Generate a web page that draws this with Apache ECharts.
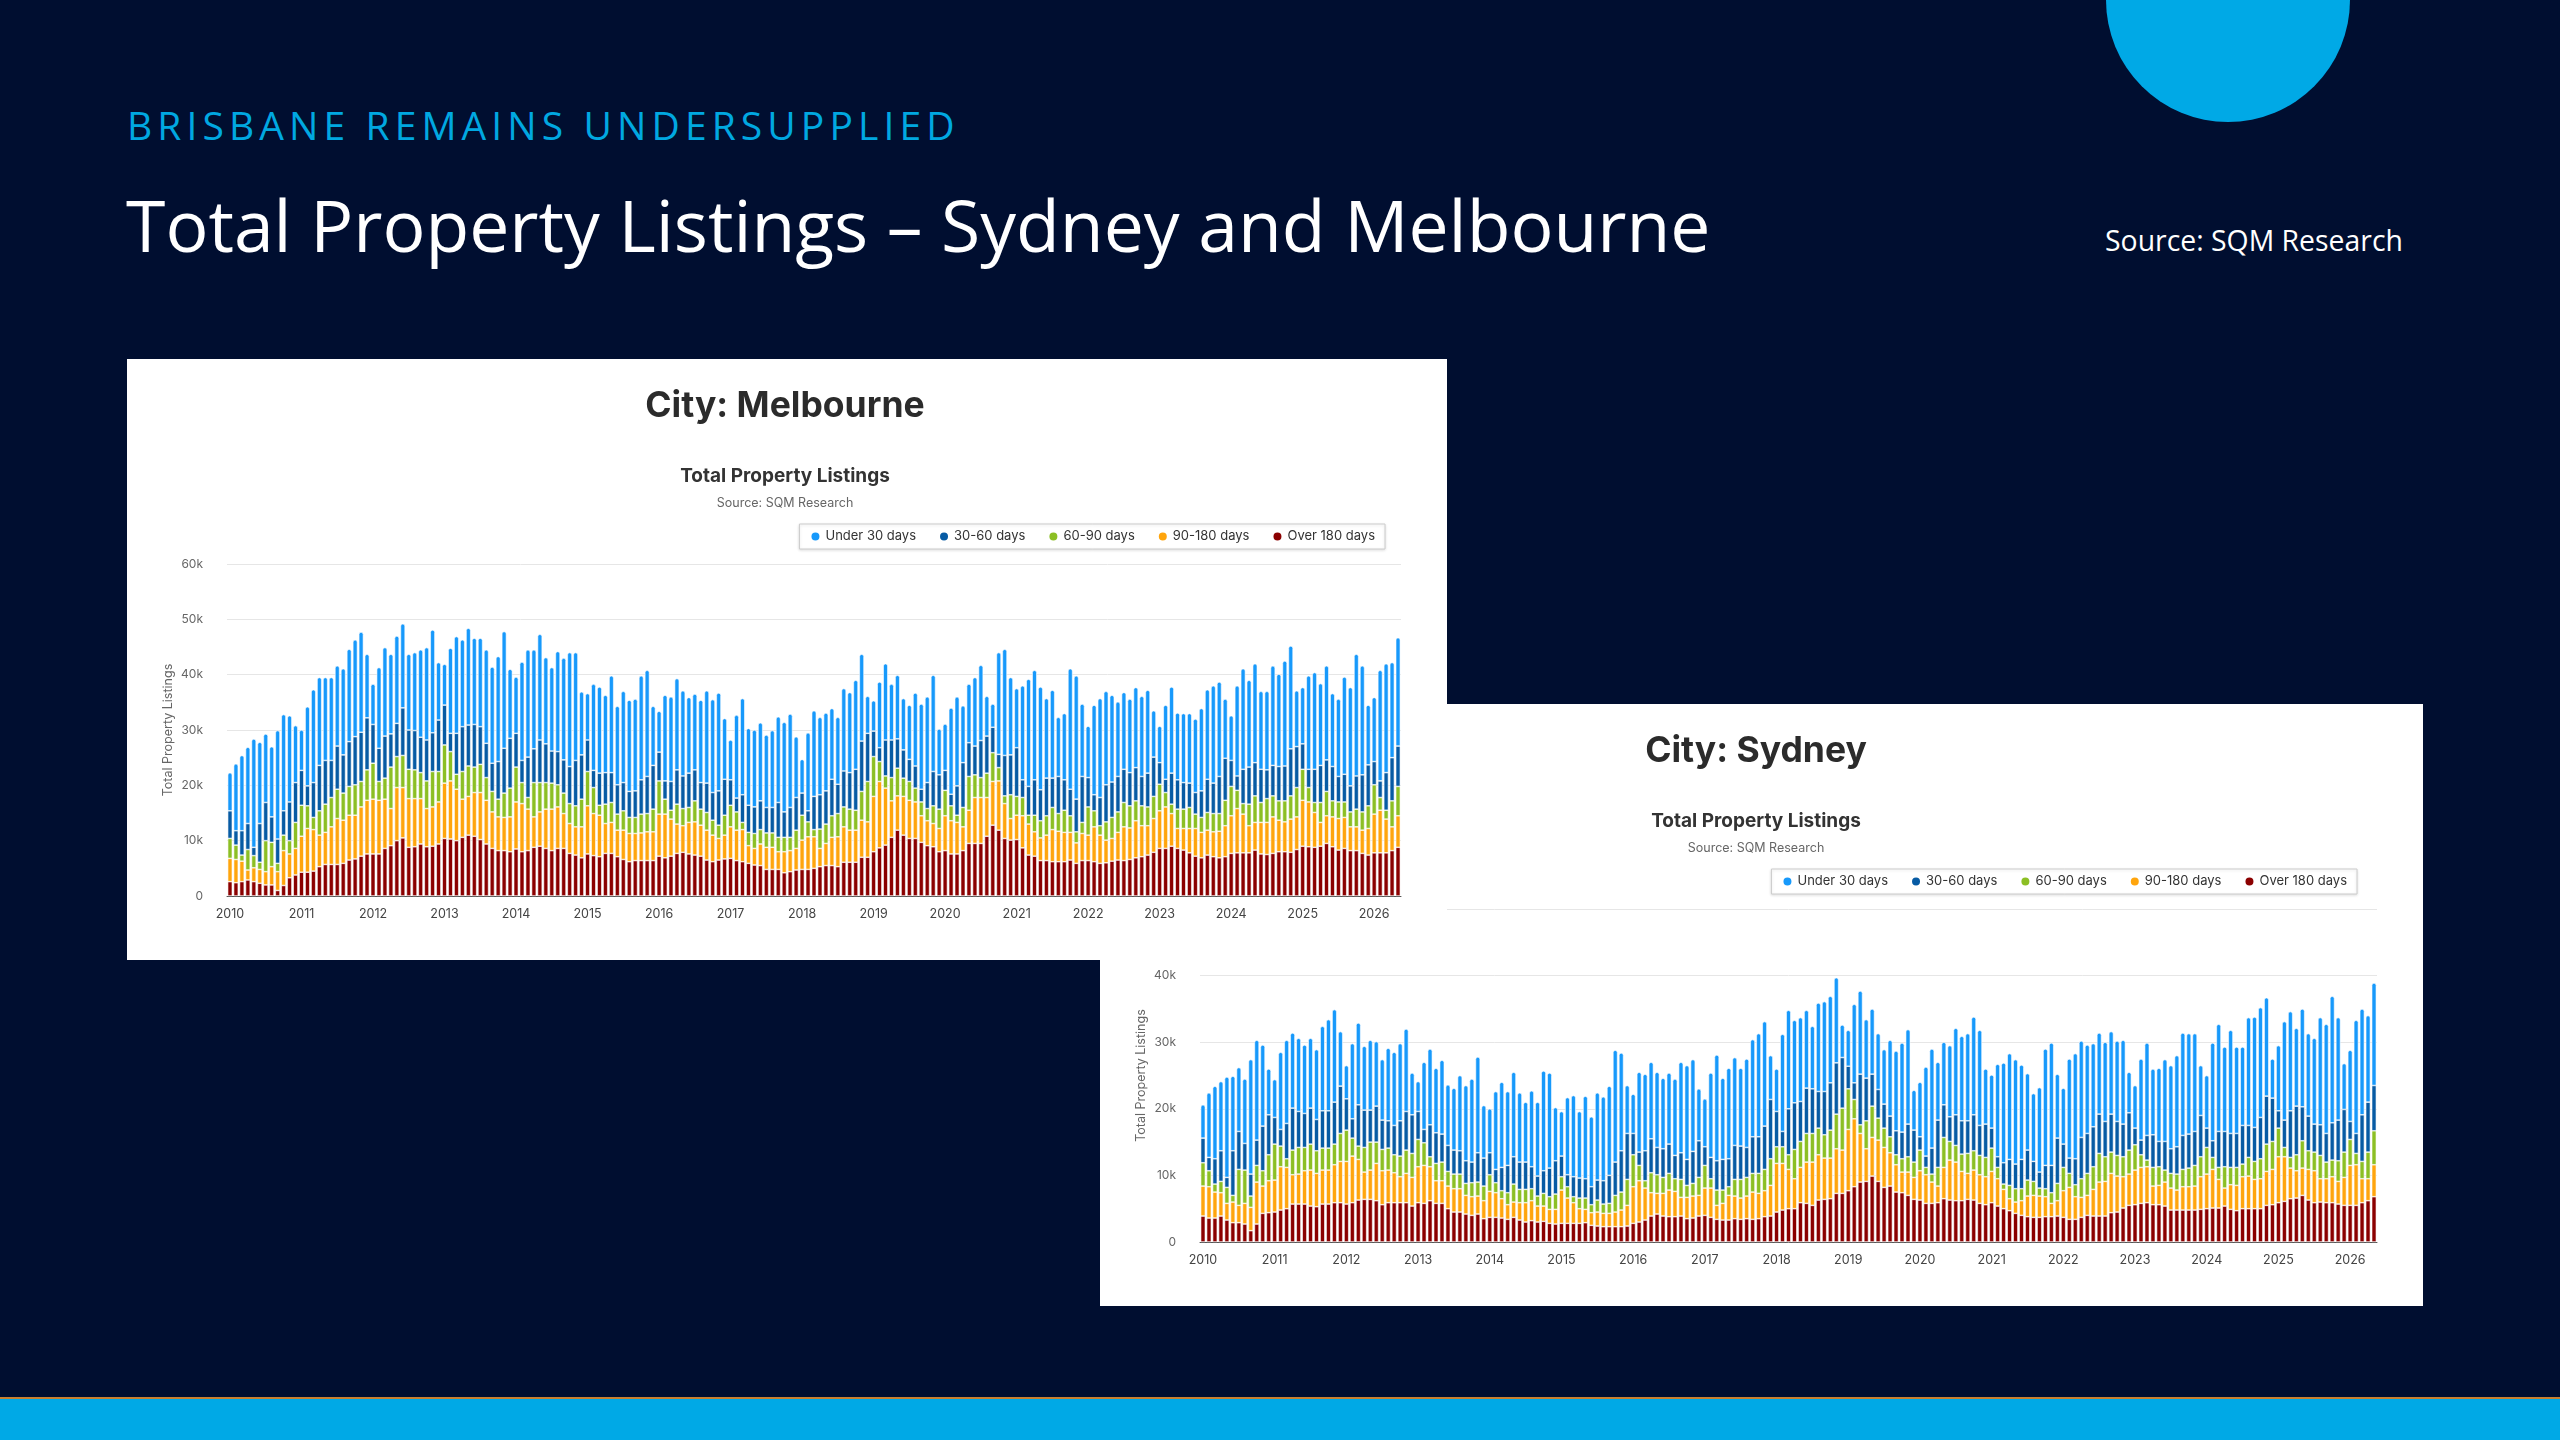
<!DOCTYPE html>
<html>
<head>
<meta charset="utf-8">
<title>Total Property Listings – Sydney and Melbourne</title>
<script src="https://cdn.jsdelivr.net/npm/echarts@6/dist/echarts.min.js"></script>
<style>
html, body { margin: 0; padding: 0; }
body {
    width: 2560px; height: 1440px; position: relative; overflow: hidden;
    background: #000e30; font-family: 'Open Sans', sans-serif;
}
.kicker { position: absolute; left: 127px; top: 105px; font-size: 39px; line-height: 1; letter-spacing: 5.1px; color: #00a8e1; }
.headline { position: absolute; left: 126px; top: 189px; font-size: 71.5px; line-height: 1; color: #fff; }
.source { position: absolute; left: 2105px; top: 226px; font-size: 28.4px; line-height: 1; color: #fff; }
.blob { position: absolute; left: 2106px; top: -122px; width: 244px; height: 244px; border-radius: 50%; background: #00a9e6; }
.footer { position: absolute; left: 0; top: 1397px; width: 2560px; height: 43px; box-sizing: border-box; background: #00a9e6; border-top: 2px solid #c8802f; }
.panel { position: absolute; background: #fff; }
#sydney { left: 1100px; top: 704px; width: 1323px; height: 602px; z-index: 1; }
#melbourne { left: 127px; top: 359px; width: 1320px; height: 601px; z-index: 2; }
</style>
</head>
<body>
<div class="blob"></div>
<div class="kicker">BRISBANE REMAINS UNDERSUPPLIED</div>
<div class="headline">Total Property Listings – Sydney and Melbourne</div>
<div class="source">Source: SQM Research</div>
<div id="sydney" class="panel"></div>
<div id="melbourne" class="panel"></div>
<div class="footer"></div>

<script>
// monthly listings, thousands, Jan 2010 .. May 2026
const startYear = 2010

const melOver180 = [
    2.6, 2.4, 2.6, 2.9, 2.6, 2.3, 2.0, 2.0, 1.0, 1.9,
    3.3, 3.8, 4.3, 4.3, 4.5, 5.3, 5.7, 5.7, 5.7, 5.9,
    6.5, 6.7, 7.2, 7.6, 7.6, 7.6, 8.6, 9.1, 10.0, 10.5,
    8.8, 8.9, 9.4, 8.9, 9.0, 9.4, 10.4, 10.3, 10.0, 10.6,
    11.0, 10.8, 10.2, 9.4, 8.6, 8.2, 8.2, 8.0, 8.5, 8.0,
    8.2, 8.8, 9.0, 8.6, 8.2, 8.6, 8.6, 7.7, 7.4, 6.9,
    7.6, 7.3, 7.1, 7.7, 7.7, 7.1, 6.6, 6.2, 6.4, 6.4,
    6.4, 6.4, 7.2, 6.9, 7.2, 7.7, 7.9, 7.6, 7.4, 7.2,
    6.5, 6.2, 6.5, 6.7, 6.8, 6.4, 6.2, 5.9, 5.6, 5.5,
    4.8, 4.8, 4.8, 4.2, 4.4, 4.7, 4.8, 4.8, 5.0, 5.3,
    5.5, 5.5, 5.3, 6.1, 6.1, 6.1, 7.0, 7.0, 8.0, 8.7,
    9.2, 10.6, 11.9, 11.0, 10.4, 10.4, 9.7, 9.1, 8.9, 8.0,
    8.2, 7.6, 7.6, 8.2, 9.5, 9.5, 9.5, 10.8, 12.8, 11.9,
    10.4, 10.1, 10.2, 8.7, 7.4, 7.2, 6.4, 6.4, 6.2, 6.2,
    6.2, 6.5, 5.9, 6.4, 6.4, 6.2, 5.9, 6.0, 6.3, 6.5,
    6.4, 6.6, 6.9, 7.1, 7.4, 7.9, 8.6, 8.6, 9.0, 8.6,
    8.3, 7.8, 7.2, 6.9, 7.4, 7.1, 6.9, 7.1, 7.7, 7.8,
    7.8, 7.8, 8.3, 7.6, 7.5, 7.7, 8.0, 8.0, 7.9, 8.4,
    9.0, 8.9, 8.8, 9.0, 9.5, 8.9, 8.3, 8.6, 8.2, 8.2,
    7.7, 7.4, 7.8, 7.8, 7.8, 8.2, 8.8
]
const mel90to180 = [
    4.2, 4.2, 3.7, 1.8, 2.5, 2.5, 2.4, 3.3, 3.4, 6.3,
    4.3, 4.8, 6.5, 7.9, 7.5, 5.7, 5.8, 6.8, 8.3, 7.8,
    8.1, 7.9, 8.9, 9.7, 9.9, 9.7, 8.9, 6.7, 9.6, 9.1,
    8.8, 8.7, 8.2, 6.9, 7.1, 7.6, 10.0, 10.5, 9.3, 6.9,
    7.0, 7.9, 8.5, 7.9, 6.6, 6.1, 6.0, 6.3, 8.5, 8.7,
    7.5, 5.5, 6.2, 7.1, 7.5, 7.5, 6.3, 5.4, 5.1, 5.6,
    8.7, 7.6, 7.5, 5.4, 5.6, 4.8, 5.3, 5.1, 4.9, 5.0,
    5.2, 5.2, 7.6, 7.9, 6.7, 5.3, 4.8, 5.7, 6.0, 5.6,
    5.4, 4.8, 3.9, 4.3, 5.7, 5.5, 5.8, 3.2, 3.0, 3.9,
    4.0, 4.0, 3.2, 3.8, 3.8, 3.9, 5.3, 5.9, 5.7, 3.3,
    4.0, 5.1, 5.4, 6.4, 5.8, 5.8, 6.7, 6.4, 10.0, 12.0,
    10.3, 6.6, 6.2, 7.0, 6.9, 6.6, 4.8, 4.5, 4.2, 4.2,
    6.3, 6.0, 5.7, 4.3, 6.0, 8.3, 8.3, 7.0, 7.9, 8.9,
    6.3, 3.9, 4.4, 5.8, 5.6, 4.4, 4.1, 4.6, 5.8, 5.5,
    5.3, 5.0, 3.7, 4.9, 4.6, 6.3, 5.1, 4.1, 4.1, 5.0,
    6.1, 5.7, 6.7, 5.6, 5.3, 6.1, 6.8, 7.5, 5.9, 3.6,
    3.9, 4.4, 5.0, 4.6, 4.5, 4.5, 4.8, 5.6, 6.8, 8.0,
    7.0, 4.9, 5.0, 5.7, 5.8, 6.6, 5.7, 5.4, 6.0, 5.9,
    8.3, 8.1, 6.3, 4.3, 5.0, 5.4, 5.7, 5.6, 4.3, 4.3,
    4.2, 4.8, 7.0, 7.7, 6.1, 4.3, 5.7
]
const mel60to90 = [
    3.6, 2.6, 1.1, 3.7, 2.2, 1.3, 5.6, 4.4, 1.5, 2.8,
    2.4, 4.7, 5.6, 4.1, 2.2, 4.4, 5.1, 5.3, 5.3, 4.9,
    5.2, 5.5, 4.6, 5.5, 6.5, 3.4, 3.8, 7.5, 5.6, 5.8,
    5.3, 5.2, 4.7, 5.0, 6.4, 5.5, 6.9, 5.3, 2.7, 5.0,
    5.5, 4.6, 5.1, 4.1, 3.7, 3.2, 4.4, 5.2, 6.3, 3.8,
    2.1, 6.2, 5.3, 4.8, 4.7, 4.0, 3.7, 3.6, 3.8, 5.0,
    6.2, 4.7, 1.8, 3.5, 3.6, 2.9, 3.5, 2.9, 2.9, 3.4,
    3.3, 4.1, 6.0, 2.7, 1.6, 3.6, 3.1, 2.7, 3.8, 2.9,
    3.2, 2.7, 2.4, 3.6, 3.9, 3.3, 1.3, 2.4, 2.7, 2.6,
    2.6, 2.6, 2.6, 2.6, 2.4, 3.3, 4.5, 2.7, 1.3, 3.5,
    3.5, 3.9, 4.2, 3.6, 3.8, 3.6, 5.2, 7.3, 7.2, 3.6,
    2.2, 4.2, 5.0, 3.3, 3.4, 2.5, 2.5, 2.2, 3.2, 3.5,
    4.6, 2.7, 1.3, 3.5, 6.1, 4.1, 3.6, 4.4, 5.2, 2.4,
    1.4, 4.3, 3.4, 3.3, 1.6, 3.0, 3.1, 3.5, 4.0, 3.2,
    4.0, 3.0, 2.0, 2.0, 5.1, 2.9, 1.7, 3.3, 3.8, 3.7,
    4.4, 4.0, 3.6, 3.6, 3.4, 4.0, 4.8, 2.6, 1.7, 3.5,
    3.5, 3.8, 2.6, 2.7, 3.2, 3.3, 3.2, 4.6, 5.3, 3.3,
    1.9, 3.9, 4.8, 3.6, 4.3, 3.8, 3.5, 3.8, 4.2, 5.3,
    5.6, 2.6, 1.8, 3.6, 4.4, 2.9, 3.0, 2.8, 2.7, 3.2,
    3.3, 4.1, 5.3, 2.3, 1.6, 4.7, 5.3
]
const mel30to60 = [
    5.0, 2.6, 4.4, 4.7, 1.5, 7.0, 6.9, 4.6, 4.4, 4.4,
    7.0, 7.2, 6.3, 3.6, 6.3, 8.2, 7.9, 6.7, 7.8, 6.9,
    8.1, 8.7, 8.9, 9.4, 7.0, 6.0, 7.6, 6.0, 6.0, 8.6,
    7.1, 7.1, 6.4, 7.4, 7.0, 9.3, 7.2, 3.3, 7.4, 8.1,
    7.4, 7.7, 6.8, 6.2, 5.1, 6.8, 8.1, 9.0, 6.1, 4.0,
    7.3, 6.1, 7.7, 7.0, 5.8, 6.0, 6.0, 6.7, 8.2, 8.0,
    5.7, 3.1, 5.8, 5.7, 5.4, 5.3, 5.1, 4.7, 4.8, 6.2,
    6.7, 7.9, 5.2, 3.3, 5.2, 6.2, 5.9, 6.2, 5.6, 4.8,
    5.3, 5.0, 6.2, 6.5, 4.6, 2.5, 5.0, 4.9, 4.8, 5.2,
    4.6, 4.6, 6.3, 4.6, 5.4, 5.9, 4.0, 2.0, 6.0, 6.2,
    6.0, 6.6, 5.3, 6.5, 6.6, 7.4, 9.1, 8.7, 4.6, 2.5,
    6.5, 6.8, 5.3, 5.1, 4.0, 4.0, 2.3, 4.7, 6.2, 6.2,
    3.6, 2.1, 5.3, 8.1, 6.1, 5.2, 6.7, 6.7, 4.6, 2.4,
    7.3, 7.2, 8.8, 3.2, 5.2, 6.4, 5.6, 6.8, 5.3, 6.7,
    5.5, 4.8, 5.9, 8.3, 5.3, 2.9, 5.1, 6.7, 6.4, 6.4,
    6.0, 6.0, 6.0, 5.3, 6.1, 7.1, 3.9, 2.4, 5.6, 5.3,
    4.8, 4.4, 3.9, 4.8, 6.0, 5.5, 6.7, 7.6, 4.7, 2.6,
    6.2, 6.7, 6.0, 6.0, 5.2, 5.5, 6.2, 6.3, 8.5, 7.4,
    4.6, 3.3, 6.0, 6.7, 5.7, 6.2, 4.6, 5.0, 4.7, 6.0,
    6.7, 7.4, 4.2, 3.0, 6.8, 7.8, 7.3
]
const melUnder30 = [
    6.9, 12.1, 13.6, 13.8, 19.6, 14.7, 12.4, 12.7, 19.6, 17.4,
    15.6, 10.3, 7.3, 14.3, 16.8, 15.9, 15.0, 15.0, 14.5, 15.6,
    16.7, 17.5, 18.1, 11.5, 7.3, 14.6, 16.0, 14.4, 15.8, 15.2,
    13.7, 14.1, 15.8, 16.7, 18.6, 10.4, 7.4, 15.4, 17.5, 15.7,
    17.5, 15.6, 16.0, 16.9, 17.4, 19.0, 21.1, 12.5, 10.2, 17.8,
    19.4, 17.9, 19.1, 15.6, 15.1, 18.1, 18.4, 20.6, 19.5, 11.4,
    8.4, 15.6, 15.6, 14.0, 17.5, 14.2, 16.5, 16.5, 16.6, 18.8,
    19.2, 10.7, 7.4, 15.5, 15.3, 16.5, 15.4, 13.7, 13.7, 14.9,
    16.7, 16.8, 17.7, 11.0, 7.2, 15.0, 17.4, 13.9, 13.9, 14.1,
    13.1, 13.9, 15.5, 16.2, 16.9, 11.0, 6.1, 14.1, 15.5, 14.0,
    14.1, 12.8, 12.1, 14.9, 14.5, 16.1, 15.7, 6.7, 5.5, 11.9,
    13.8, 10.1, 11.5, 9.3, 9.8, 13.2, 15.4, 15.5, 17.4, 8.3,
    8.4, 15.6, 16.1, 10.3, 10.6, 12.4, 13.6, 7.2, 4.2, 18.4,
    19.2, 14.0, 10.7, 17.0, 19.4, 19.8, 18.6, 14.4, 15.9, 10.7,
    12.0, 21.8, 22.3, 13.1, 9.3, 16.2, 17.9, 16.9, 15.7, 13.5,
    13.9, 13.3, 14.5, 14.5, 15.0, 8.4, 6.6, 13.4, 15.6, 12.1,
    12.5, 12.6, 13.3, 14.9, 16.2, 17.6, 17.1, 10.7, 8.1, 16.3,
    18.2, 15.7, 17.9, 14.1, 14.2, 18.0, 16.7, 19.0, 18.6, 10.1,
    10.2, 16.9, 17.5, 14.8, 17.0, 13.2, 14.0, 17.6, 17.8, 22.0,
    19.7, 10.8, 11.6, 20.0, 19.7, 17.2, 19.6
]

const sydOver180 = [
    3.9, 3.6, 3.6, 3.9, 3.3, 2.9, 2.9, 2.7, 1.7, 2.7,
    4.3, 4.4, 4.5, 4.8, 5.0, 5.7, 5.7, 5.7, 5.4, 5.3,
    5.7, 5.7, 5.9, 5.9, 5.7, 5.9, 6.3, 6.4, 6.4, 6.2,
    5.6, 5.9, 5.9, 5.9, 5.9, 5.4, 5.9, 5.8, 6.2, 5.8,
    5.8, 5.0, 4.5, 4.5, 4.2, 4.0, 4.2, 3.5, 3.7, 3.7,
    3.6, 3.4, 3.7, 3.3, 3.0, 3.2, 3.0, 3.1, 2.8, 2.7,
    2.8, 2.8, 2.8, 2.8, 2.9, 2.5, 2.4, 2.3, 2.3, 2.3,
    2.3, 2.4, 2.8, 3.0, 3.3, 3.9, 4.2, 3.9, 3.8, 3.8,
    3.9, 3.5, 3.6, 3.9, 4.0, 3.7, 3.4, 3.3, 3.3, 3.5,
    3.4, 3.5, 3.4, 3.5, 3.8, 3.9, 4.5, 4.8, 5.0, 5.0,
    5.9, 5.8, 5.5, 6.3, 6.4, 6.5, 7.3, 7.3, 7.7, 8.3,
    9.0, 9.1, 9.9, 9.1, 8.2, 8.4, 7.5, 7.4, 7.0, 6.4,
    6.3, 5.8, 5.8, 5.9, 6.5, 6.3, 6.2, 6.2, 6.4, 6.3,
    5.8, 5.6, 5.9, 5.4, 5.0, 4.7, 4.3, 4.0, 3.8, 3.7,
    3.7, 3.8, 3.8, 3.9, 3.7, 3.4, 3.4, 3.7, 4.0, 3.9,
    3.9, 3.9, 4.4, 4.5, 5.1, 5.5, 5.6, 5.8, 5.9, 5.6,
    5.6, 5.4, 4.8, 4.8, 4.8, 4.8, 4.8, 4.9, 5.0, 5.1,
    5.1, 5.4, 4.9, 4.7, 5.0, 5.0, 5.0, 5.0, 5.5, 5.6,
    5.9, 6.1, 6.5, 6.6, 7.0, 6.3, 5.9, 6.0, 5.9, 5.9,
    5.7, 5.5, 5.5, 5.5, 5.9, 6.2, 6.8
]
const syd90to180 = [
    4.5, 4.7, 3.9, 3.5, 2.5, 3.1, 2.6, 3.1, 3.5, 6.3,
    4.1, 4.8, 4.8, 6.5, 6.2, 4.4, 4.5, 5.0, 5.4, 5.0,
    5.1, 5.1, 5.7, 6.2, 6.4, 7.0, 6.1, 4.1, 4.4, 5.6,
    5.1, 4.9, 4.5, 3.9, 4.4, 4.3, 5.4, 5.7, 5.1, 3.4,
    3.4, 3.4, 3.5, 3.5, 2.8, 2.8, 2.7, 2.7, 3.9, 3.7,
    2.9, 2.2, 2.3, 2.6, 2.9, 3.0, 2.4, 2.3, 2.1, 2.2,
    5.0, 3.8, 3.1, 2.2, 2.0, 1.9, 2.1, 2.0, 2.0, 2.2,
    2.5, 3.1, 5.5, 6.2, 4.8, 3.5, 3.1, 3.4, 4.0, 3.8,
    2.8, 3.2, 3.3, 3.1, 4.1, 4.4, 2.1, 2.5, 3.7, 3.4,
    3.2, 3.4, 4.1, 3.8, 3.9, 4.6, 7.3, 7.0, 5.9, 4.5,
    5.3, 6.2, 6.5, 6.8, 6.2, 6.1, 6.7, 6.5, 9.2, 10.2,
    7.3, 4.9, 5.8, 6.2, 6.0, 5.0, 4.1, 3.1, 3.5, 3.3,
    4.4, 4.3, 3.2, 2.5, 4.7, 6.0, 5.8, 4.4, 3.9, 4.5,
    4.3, 4.2, 4.7, 4.1, 2.9, 1.8, 1.7, 2.2, 3.1, 3.3,
    3.2, 3.0, 2.0, 2.3, 4.0, 4.8, 3.4, 3.0, 3.0, 4.0,
    5.1, 5.2, 5.9, 5.4, 4.7, 4.7, 5.2, 5.4, 5.4, 2.8,
    2.9, 3.6, 3.3, 3.0, 3.5, 3.5, 3.6, 4.9, 5.2, 5.8,
    4.3, 2.7, 3.7, 3.8, 4.8, 4.9, 4.4, 4.5, 5.1, 5.3,
    6.9, 6.7, 4.6, 4.1, 4.1, 4.6, 4.8, 3.5, 3.6, 3.9,
    3.4, 4.2, 6.0, 6.1, 3.6, 3.3, 4.8
]
const syd60to90 = [
    3.5, 2.4, 1.2, 1.7, 2.4, 1.0, 5.4, 5.0, 1.7, 2.5,
    2.3, 3.9, 5.4, 3.1, 1.3, 3.7, 4.0, 3.5, 3.9, 3.4,
    3.3, 3.3, 3.1, 4.2, 4.7, 2.7, 2.0, 3.7, 4.2, 3.2,
    3.2, 3.3, 2.7, 3.1, 3.5, 3.6, 4.1, 3.4, 1.5, 2.6,
    2.8, 2.2, 2.2, 2.2, 1.8, 2.1, 2.1, 2.2, 2.5, 1.5,
    1.2, 1.8, 2.7, 2.0, 2.0, 1.8, 1.5, 1.9, 1.9, 2.3,
    2.0, 1.7, 0.9, 1.6, 1.7, 1.2, 1.8, 1.4, 1.5, 2.5,
    2.7, 3.9, 4.8, 2.3, 1.1, 3.0, 2.8, 2.4, 2.5, 1.9,
    2.7, 1.8, 1.9, 2.7, 3.4, 1.4, 2.3, 2.0, 1.3, 2.5,
    2.8, 2.8, 2.8, 3.0, 3.2, 4.0, 2.5, 2.5, 2.2, 4.4,
    3.9, 4.3, 4.3, 4.0, 3.5, 4.2, 5.2, 6.3, 6.1, 2.9,
    1.3, 4.2, 4.7, 3.3, 2.9, 2.4, 1.5, 2.0, 2.3, 2.3,
    3.1, 1.1, 1.2, 2.8, 4.5, 2.8, 2.5, 2.6, 3.0, 2.9,
    2.9, 2.9, 3.5, 1.7, 0.8, 2.0, 2.0, 1.8, 2.4, 2.1,
    1.2, 1.2, 1.6, 2.6, 3.5, 2.1, 1.8, 2.8, 3.3, 3.4,
    4.3, 3.7, 3.2, 3.1, 3.0, 3.6, 3.8, 1.9, 1.0, 2.8,
    2.8, 1.8, 2.2, 2.4, 2.6, 2.8, 3.1, 3.0, 4.0, 1.8,
    1.8, 3.2, 2.6, 2.7, 1.9, 2.8, 2.7, 3.0, 4.1, 4.2,
    4.3, 1.4, 1.6, 2.4, 4.1, 2.8, 2.8, 3.5, 2.5, 2.5,
    3.1, 3.8, 3.9, 1.7, 2.6, 4.0, 5.1
]
const syd30to60 = [
    3.7, 2.0, 3.8, 4.6, 1.5, 6.7, 5.7, 4.0, 3.3, 3.8,
    6.7, 6.0, 4.0, 2.5, 5.3, 6.3, 5.4, 5.1, 5.4, 4.7,
    5.6, 5.6, 6.3, 7.1, 4.7, 2.9, 6.2, 5.6, 4.8, 5.4,
    4.4, 4.1, 4.4, 5.3, 5.8, 5.8, 4.2, 2.0, 4.8, 4.6,
    4.2, 3.9, 3.6, 3.5, 3.4, 3.1, 4.4, 4.2, 3.3, 2.0,
    3.5, 4.1, 4.1, 4.1, 4.1, 3.3, 3.0, 3.4, 4.3, 5.0,
    3.1, 1.8, 3.0, 3.0, 2.9, 2.7, 3.0, 3.5, 4.2, 5.0,
    6.2, 6.9, 3.2, 2.0, 4.5, 5.1, 4.1, 4.3, 4.4, 3.5,
    4.0, 3.9, 4.8, 5.5, 2.8, 3.2, 4.4, 4.6, 4.2, 5.1,
    5.0, 4.5, 5.5, 5.5, 6.5, 8.9, 5.3, 2.3, 6.9, 7.0,
    6.0, 6.8, 6.7, 5.5, 6.5, 7.1, 7.7, 7.6, 3.4, 2.5,
    7.6, 6.4, 4.8, 4.3, 3.6, 3.1, 3.6, 4.0, 4.9, 4.8,
    2.0, 1.7, 3.9, 7.1, 4.9, 3.7, 4.6, 5.0, 4.9, 5.4,
    4.5, 5.0, 3.0, 1.6, 3.2, 3.9, 3.7, 4.4, 4.5, 3.0,
    2.4, 3.5, 4.1, 6.8, 3.5, 2.3, 3.9, 6.2, 6.0, 6.0,
    5.9, 5.3, 5.7, 5.1, 4.9, 5.6, 2.5, 2.2, 3.7, 4.9,
    3.8, 4.3, 3.7, 4.1, 5.1, 5.1, 5.1, 6.2, 2.9, 2.5,
    5.4, 5.3, 5.1, 5.1, 5.8, 4.8, 5.1, 6.2, 7.2, 6.5,
    2.6, 4.1, 7.0, 7.3, 5.1, 5.2, 4.2, 4.6, 4.3, 5.6,
    6.1, 6.4, 2.7, 3.0, 7.0, 7.5, 6.8
]
const sydUnder30 = [
    5.0, 9.7, 10.9, 10.4, 15.1, 11.2, 9.6, 9.7, 17.2, 15.0,
    12.2, 6.9, 5.7, 11.6, 12.5, 11.3, 11.0, 10.3, 10.5, 10.5,
    12.7, 13.7, 13.9, 8.2, 5.0, 11.3, 12.3, 9.6, 10.5, 9.7,
    9.1, 10.9, 11.0, 11.6, 12.4, 6.3, 4.5, 10.1, 11.4, 9.7,
    11.1, 9.1, 9.3, 11.3, 11.3, 12.5, 14.4, 7.9, 6.6, 11.7,
    12.8, 11.1, 12.7, 10.4, 9.0, 11.4, 11.1, 15.0, 14.3, 8.0,
    6.7, 11.6, 12.2, 10.0, 12.4, 10.5, 13.1, 12.6, 13.4, 16.8,
    14.7, 7.2, 5.9, 12.0, 11.5, 11.5, 11.3, 10.6, 10.7, 11.5,
    13.6, 14.1, 13.8, 7.8, 7.2, 12.7, 15.9, 12.2, 13.6, 13.2,
    11.7, 13.3, 14.6, 15.5, 15.7, 6.6, 6.4, 14.6, 14.8, 12.4,
    12.6, 11.7, 9.4, 13.3, 13.5, 13.0, 12.8, 4.9, 5.4, 11.8,
    12.5, 8.8, 9.8, 8.4, 8.2, 11.4, 12.0, 13.4, 14.2, 6.0,
    8.2, 13.4, 14.9, 8.7, 9.4, 10.7, 13.0, 12.7, 13.1, 14.7,
    14.3, 8.3, 8.0, 13.9, 15.0, 15.9, 15.7, 14.2, 11.5, 10.2,
    12.7, 17.5, 18.4, 9.6, 8.4, 14.9, 15.8, 14.5, 13.3, 12.5,
    12.2, 11.9, 12.4, 12.1, 12.6, 6.1, 6.4, 12.2, 13.9, 9.9,
    11.0, 12.3, 12.5, 13.7, 15.4, 15.1, 14.7, 7.5, 7.9, 14.7,
    16.1, 12.7, 15.5, 13.0, 11.8, 16.2, 16.6, 16.5, 14.8, 5.9,
    9.8, 14.8, 14.9, 11.7, 14.7, 12.4, 12.9, 16.1, 16.4, 19.0,
    15.4, 6.9, 10.7, 17.0, 15.9, 13.0, 15.4
]

const bandNames = ['Under 30 days', '30-60 days', '60-90 days', '90-180 days', 'Over 180 days']
const bandColors = ['#1799fb', '#075ba4', '#8cbf24', '#ffa50d', '#8b0000']

const months = []
for (let i = 0; i < melOver180.length; i++) {
    const y = startYear + Math.floor(i / 12)
    months.push(y + '-' + String(i % 12 + 1).padStart(2, '0'))
}

const isJan = (idx) => idx % 12 === 0

// headCenter: x of the centred headings, legendRight: gap right of the legend box
function buildOption (cityTitle, bands, yMax, headCenter, legendRight) {
    // bands in legend order: under30 .. over180; stack from the bottom up
    const series = []
    for (let k = bands.length - 1; k >= 0; k--) {
        series.push({
            name: bandNames[k],
            type: 'bar',
            stack: 'total',
            data: bands[k],
            barCategoryGap: '22%',
            itemStyle: {
                color: bandColors[k],
                borderColor: '#ffffff',
                borderWidth: 0.6,
                borderRadius: k === 0 ? [2, 2, 0, 0] : 0
            },
            emphasis: { disabled: true }
        })
    }
    return {
        animation: false,
        textStyle: { fontFamily: 'Inter, sans-serif' },
        title: [
            {
                text: cityTitle,
                left: headCenter,
                top: 24,
                textAlign: 'center',
                textStyle: { fontSize: 35.5, fontWeight: 'bold', color: '#2b2b2b' }
            },
            {
                text: 'Total Property Listings',
                subtext: 'Source: SQM Research',
                left: headCenter,
                top: 103,
                textAlign: 'center',
                itemGap: 11,
                textStyle: { fontSize: 19, fontWeight: 'bold', color: '#333333' },
                subtextStyle: { fontSize: 12.5, color: '#666666' }
            }
        ],
        legend: {
            data: bandNames,
            right: legendRight,
            top: 165,
            icon: 'circle',
            itemWidth: 10,
            itemHeight: 10,
            itemGap: 22,
            padding: [6, 10],
            borderColor: '#cccccc',
            borderWidth: 1,
            shadowColor: 'rgba(0,0,0,0.12)',
            shadowBlur: 3,
            shadowOffsetY: 1,
            backgroundColor: '#ffffff',
            textStyle: { fontSize: 13, color: '#333333' }
        },
        grid: { left: 100, right: 46, top: 205, bottom: 64 },
        xAxis: {
            type: 'category',
            data: months,
            axisLine: { lineStyle: { color: '#555555' } },
            axisTick: { interval: isJan, length: 6, lineStyle: { color: '#555555' } },
            axisLabel: {
                interval: isJan,
                formatter: (v) => v.slice(0, 4),
                fontSize: 12.5,
                color: '#444444',
                margin: 12
            }
        },
        yAxis: {
            type: 'value',
            min: 0,
            max: yMax,
            interval: 10,
            name: 'Total Property Listings',
            nameLocation: 'middle',
            nameGap: 52,
            nameMoveOverlap: false,
            nameTextStyle: { fontSize: 12.5, color: '#666666' },
            axisLabel: {
                formatter: (v) => v === 0 ? '0' : v + 'k',
                fontSize: 12,
                color: '#666666',
                margin: 24
            },
            splitLine: { lineStyle: { color: '#e6e6e6' } }
        },
        series
    }
}

const sydChart = echarts.init(document.getElementById('sydney'))
sydChart.setOption(buildOption('City: Sydney',
    [sydUnder30, syd30to60, syd60to90, syd90to180, sydOver180], 50, 651, 66))

const melChart = echarts.init(document.getElementById('melbourne'))
melChart.setOption(buildOption('City: Melbourne',
    [melUnder30, mel30to60, mel60to90, mel90to180, melOver180], 60, 653, 62))
</script>
</body>
</html>
